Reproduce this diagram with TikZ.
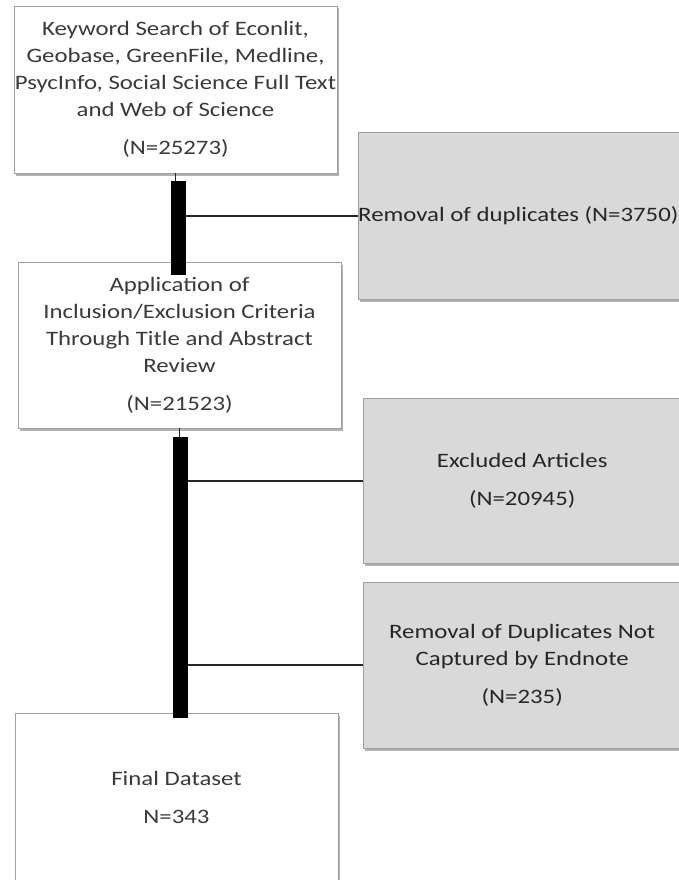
\documentclass[tikz,border=0pt]{standalone}
\usepackage{fontspec}
\setmainfont{Carlito}[FakeStretch=1.21]
\usetikzlibrary{positioning,shadows}
\definecolor{boxline}{HTML}{A0A0A0}
\definecolor{boxgray}{HTML}{D9D9D9}
\definecolor{txt}{HTML}{3A3A3A}
\begin{document}
\begin{tikzpicture}[x=1pt,y=-1pt,
  font=\fontsize{20.5pt}{27pt}\selectfont,
  whitebox/.style={draw=boxline,fill=white,text=txt,align=center,
    minimum width=323pt,minimum height=167pt,inner sep=0pt,
    drop shadow={shadow xshift=2pt,shadow yshift=-2.5pt,fill=black,opacity=0.3}},
  graybox/.style={whitebox,fill=boxgray,text=black!85,
    minimum width=318pt,minimum height=165pt,anchor=north west},
  link/.style={draw=black!85,line width=1.8pt},
  bar/.style={line width=14.5pt}]
  \useasboundingbox (0,0) rectangle (678,880);
  \node[whitebox] (search) at (175.5,89.5) {Keyword Search of Econlit,\\
    Geobase, GreenFile, Medline,\\ PsycInfo, Social Science Full Text\\
    and Web of Science\\[11pt] (N=25273)};
  \node[graybox,minimum width=322pt,minimum height=167pt] (dup) at (358,132) {};
  \node[anchor=west,inner sep=0pt,text=black!85] (duptext) at (dup.west)
    {Removal of duplicates (N=3750)};
  \node[whitebox,minimum height=166pt] (criteria) at (179.5,345) {Application of\\
    Inclusion/Exclusion Criteria\\ Through Title and Abstract\\
    Review\\[11pt] (N=21523)};
  \node[graybox] (excl) at (363,398) {Excluded Articles\\[11pt] (N=20945)};
  \node[graybox,minimum height=166pt] (endnote) at (363,582)
    {Removal of Duplicates Not\\ Captured by Endnote\\[11pt] (N=235)};
  \node[whitebox,minimum height=168pt] (final) at (176.5,797)
    {Final Dataset\\[11pt] N=343};
  \coordinate (b1top) at (178.5,181);
  \coordinate (b1bot) at (178.5,275);
  \coordinate (b2top) at (180.5,437);
  \coordinate (b2bot) at (180.5,718);
  \draw[link,line width=1.3pt] (search.south) -- (search.south |- b1top);
  \draw[link] (b1top |- dup.west) -- (dup.west);
  \draw[bar] (b1top) -- (b1bot);
  \draw[link,line width=1.3pt] (criteria.south) -- (criteria.south |- b2top);
  \draw[link] (b2top |- excl.west) -- (excl.west);
  \draw[link] (b2top |- endnote.west) -- (endnote.west);
  \draw[bar] (b2top) -- (b2bot);
\end{tikzpicture}
\end{document}
